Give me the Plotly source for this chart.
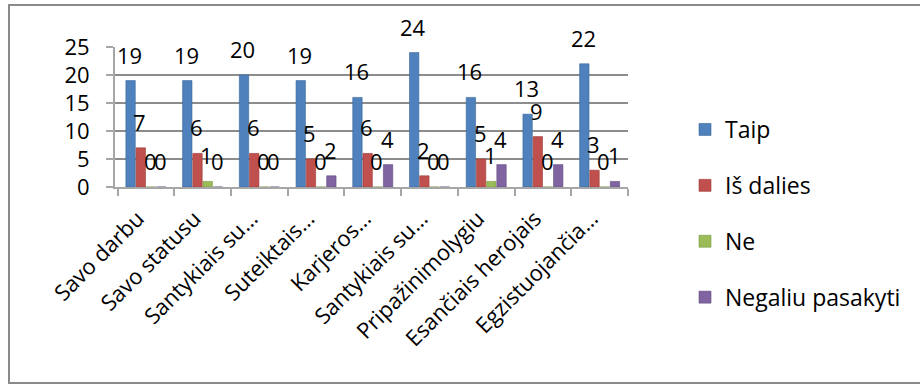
import plotly.graph_objects as go

categories = ["Savo darbu", "Savo statusu", "Santykiais su…", "Suteiktais…", "Karjeros…",
              "Santykiais su…", "Pripažinimolygiu", "Esančiais herojais", "Egzistuojančia…"]
# unique keys for duplicate category labels
cat_keys = [f"c{i}" for i in range(len(categories))]

series_names = ["Taip", "Iš dalies", "Ne", "Negaliu pasakyti"]
taip = [19, 19, 20, 19, 16, 24, 16, 13, 22]
is_dalies = [7, 6, 6, 5, 6, 2, 5, 9, 3]
ne = [0, 1, 0, 0, 0, 0, 1, 0, 0]
negaliu = [0, 0, 0, 2, 4, 0, 4, 4, 1]
series_values = [taip, is_dalies, ne, negaliu]
colors = ["#4F81BD", "#C0504D", "#9BBB59", "#8064A2"]
line_colors = ["#3A6698", "#9B3B38", "#7A9A42", "#634D82"]

FONT = "Open Sans"
L, R, T, B = 115, 292, 47, 197
W, H = 920, 384
pw, ph = W - L - R, H - T - B

fig = go.Figure()
for i, (name, vals) in enumerate(zip(series_names, series_values)):
    fig.add_trace(go.Bar(
        x=cat_keys, y=vals, name=name,
        marker=dict(color=colors[i], line=dict(color=line_colors[i], width=0.6)),
        legendgroup=name,
    ))

cat_w = pw / len(categories)
bargap = 0.28
bw = cat_w * (1 - bargap) / 4
annotations = []
for i, vals in enumerate(series_values):
    for k, v in zip(cat_keys, vals):
        annotations.append(dict(
            x=k, y=v, xref="x", yref="y", text=str(v), showarrow=False,
            xshift=(i - 1.5) * bw - 1, yshift=26, yanchor="middle",
            font=dict(family=FONT, size=22, color="#000000"),
        ))

def px2paper_x(px):
    return (px - L) / pw

def px2paper_y(py):
    return (H - B - py) / ph

fig.update_layout(
    width=W, height=H,
    margin=dict(l=L, r=R, t=T, b=B),
    paper_bgcolor="white", plot_bgcolor="white",
    barmode="group", bargap=bargap, bargroupgap=0.08,
    font=dict(family=FONT, size=20, color="#000000"),
    showlegend=True,
    legend=dict(
        x=px2paper_x(685), y=px2paper_y(108), xanchor="left", yanchor="top",
        traceorder="grouped", tracegroupgap=23, maxheight=380,
        font=dict(family=FONT, size=23, color="#000000"),
        bgcolor="rgba(0,0,0,0)",
    ),
    annotations=annotations,
    shapes=[dict(type="rect", xref="paper", yref="paper",
                 x0=px2paper_x(9), x1=px2paper_x(925),
                 y0=px2paper_y(383), y1=px2paper_y(5),
                 line=dict(color="#8A8A8A", width=2), layer="below")],
)
fig.update_xaxes(
    tickvals=cat_keys, ticktext=[c + "\u00a0\u00a0" for c in categories], tickangle=-45,
    showline=True, linecolor="#A6A6A6", linewidth=2,
    ticks="outside", ticklen=7, tickcolor="#A6A6A6", tickwidth=2,
    tickson="boundaries", showgrid=False,
    tickfont=dict(family=FONT, size=22, color="#000000"),
)
fig.update_yaxes(
    range=[0, 25], dtick=5, showgrid=True, gridcolor="#8C8C8C", gridwidth=2,
    showline=True, linecolor="#A6A6A6", linewidth=2,
    ticks="outside", ticklen=7, tickcolor="#A6A6A6", tickwidth=2,
    ticklabelstandoff=12, zeroline=False,
    tickfont=dict(family=FONT, size=22, color="#000000"),
)

fig.write_html("out.html")
